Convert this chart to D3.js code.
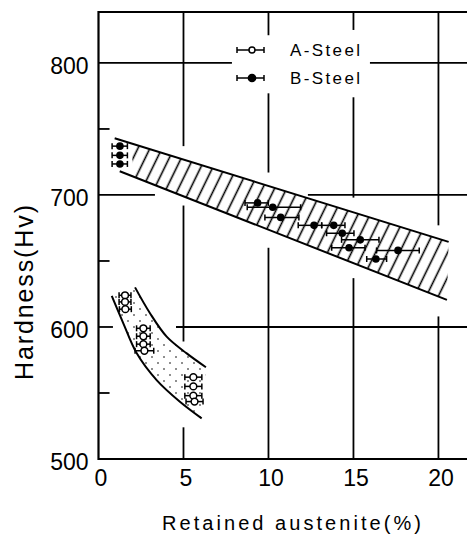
<!DOCTYPE html>
<html lang="en">
<head>
<meta charset="UTF-8">
<title>Hardness vs retained austenite</title>
<script src="https://cdn.jsdelivr.net/npm/d3@7"></script>
<style>
    body { margin: 0; background: #fff; }
    svg { display: block; }
</style>
</head>
<body>
<svg id="chart" width="467" height="536"></svg>
<script>
    const xTicks = [0, 5, 10, 15, 20];
    const yTicks = [500, 600, 700, 800];
    const yMinor = [550, 650, 750];

    // A-Steel: [retained austenite, hardness, half width of error bar]
    const aSteel = [
        [1.56, 624, 0.35], [1.56, 619, 0.35], [1.58, 613.5, 0.35],
        [2.64, 599, 0.4], [2.64, 593, 0.4], [2.64, 587, 0.4], [2.7, 582, 0.55],
        [5.58, 562, 0.5], [5.58, 555, 0.5], [5.58, 548, 0.5], [5.65, 543.5, 0.5]
    ];
    // B-Steel: [retained austenite, hardness, low, high]
    const bSteel = [
        [1.26, 737, 0.8, 1.7], [1.26, 730, 0.8, 1.7], [1.26, 723.5, 0.8, 1.7],
        [9.36, 694, 8.62, 9.99], [10.25, 690.7, 8.75, 11.89], [10.72, 683, 9.79, 11.79],
        [12.68, 677, 11.75, 13.13], [13.84, 677, 13.13, 14.5], [14.34, 671, 13.42, 15.03],
        [15.4, 666, 14.3, 16.5], [14.74, 660, 13.72, 15.68], [17.62, 658, 16.36, 18.87],
        [16.32, 651.5, 15.78, 16.95]
    ];

    // scatter bands
    const bandAUpper = [[2.15, 630], [3.03, 610.4], [4.01, 592.7], [5.19, 580], [6.32, 569.5]];
    const bandALower = [[0.78, 623.5], [1.46, 602.8], [2.25, 580.1], [3.42, 559.8], [4.79, 543.4], [6.07, 530.8]];
    const bandBUpper = [[0.95, 743], [20.6, 664.5]];
    const bandBLower = [[1.25, 718], [20.5, 620.5]];

    // grid lines are broken in the original, around the legend and the data
    const vGrid = [
        [5, 737, 839], [5, 589, 692], [5, 500, 524],
        [10, 821, 839], [10, 717, 777], [10, 500, 660],
        [15, 825, 839], [15, 698, 774], [15, 500, 637],
        [20, 677, 839], [20, 500, 608]
    ];
    const hGrid = [
        [800, 0, 7.85], [800, 15.97, 21.7],
        [700, 0, 3.32], [700, 12.32, 21.7],
        [600, 0, 0.85], [600, 4.56, 21.7]
    ];

    const W = 467, H = 536;
    const x = d3.scaleLinear().domain([0, 21.68]).range([98.5, W]);
    const y = d3.scaleLinear().domain([500, 838.6]).range([459, 12]);

    const svg = d3.select('#chart');
    const font = '"Liberation Sans", Arial, sans-serif';

    const defs = svg.append('defs');
    defs.append('pattern')
        .attr('id', 'hatch')
        .attr('patternUnits', 'userSpaceOnUse')
        .attr('width', 10.8).attr('height', 10)
        .attr('patternTransform', 'rotate(26)')
        .append('line')
        .attr('x1', 5.4).attr('y1', 0).attr('x2', 5.4).attr('y2', 10)
        .attr('stroke', '#000').attr('stroke-width', 1.6);
    const dots = defs.append('pattern')
        .attr('id', 'dots')
        .attr('patternUnits', 'userSpaceOnUse')
        .attr('width', 12).attr('height', 12);
    dots.append('circle').attr('cx', 2).attr('cy', 3).attr('r', 0.8).attr('fill', '#000');
    dots.append('circle').attr('cx', 8).attr('cy', 9).attr('r', 0.8).attr('fill', '#000');

    // grid
    svg.append('g').selectAll('line').data(vGrid).join('line')
        .attr('x1', d => x(d[0])).attr('x2', d => x(d[0]))
        .attr('y1', d => y(d[1])).attr('y2', d => y(d[2]))
        .attr('stroke', '#000').attr('stroke-width', 1.8);
    svg.append('g').selectAll('line').data(hGrid).join('line')
        .attr('x1', d => x(d[1])).attr('x2', d => x(d[2]))
        .attr('y1', d => y(d[0])).attr('y2', d => y(d[0]))
        .attr('stroke', '#000').attr('stroke-width', 1.8);
    svg.append('g').selectAll('line').data(yMinor).join('line')
        .attr('x1', x(0)).attr('x2', x(0.65))
        .attr('y1', d => y(d)).attr('y2', d => y(d))
        .attr('stroke', '#000').attr('stroke-width', 1.8);

    // frame: left, bottom, top (no right edge)
    svg.append('path')
        .attr('d', `M${W},${y(838.6)}H${x(0)}V${y(500)}H${W}`)
        .attr('fill', 'none').attr('stroke', '#000').attr('stroke-width', 2.2);

    // B band, hatched
    const along = (band, v) => {
        const [a, b] = band;
        return [v, a[1] + (b[1] - a[1]) * (v - a[0]) / (b[0] - a[0])];
    };
    const hatchPoly = [along(bandBUpper, 1.9), bandBUpper[1], bandBLower[1], along(bandBLower, 2.1)];
    svg.append('path')
        .attr('d', d3.line().x(d => x(d[0])).y(d => y(d[1]))(hatchPoly) + 'Z')
        .attr('fill', 'url(#hatch)');
    const straight = d3.line().x(d => x(d[0])).y(d => y(d[1]));
    [bandBUpper, bandBLower].forEach(b => {
        svg.append('path').attr('d', straight(b))
            .attr('fill', 'none').attr('stroke', '#000').attr('stroke-width', 2);
    });

    // A band, dotted
    const curve = d3.line().x(d => x(d[0])).y(d => y(d[1])).curve(d3.curveCatmullRom);
    const lowerRev = bandALower.slice().reverse();
    svg.append('path')
        .attr('d', curve(bandAUpper) + 'L' + curve(lowerRev).slice(1) + 'Z')
        .attr('fill', 'url(#dots)');
    [bandAUpper, bandALower].forEach(b => {
        svg.append('path').attr('d', curve(b))
            .attr('fill', 'none').attr('stroke', '#000').attr('stroke-width', 2);
    });

    // error bars
    function errBar(g, x1, x2, yy) {
        g.append('line').attr('x1', x1).attr('x2', x2).attr('y1', yy).attr('y2', yy)
            .attr('stroke', '#000').attr('stroke-width', 1.5);
        [x1, x2].forEach(xx => g.append('line')
            .attr('x1', xx).attr('x2', xx).attr('y1', yy - 3).attr('y2', yy + 3)
            .attr('stroke', '#000').attr('stroke-width', 1.5));
    }
    const gB = svg.append('g');
    bSteel.forEach(d => {
        errBar(gB, x(d[2]), x(d[3]), y(d[1]));
        gB.append('circle').attr('cx', x(d[0])).attr('cy', y(d[1])).attr('r', 3.8).attr('fill', '#000');
    });
    const gA = svg.append('g');
    aSteel.forEach(d => {
        errBar(gA, x(d[0] - d[2]), x(d[0] + d[2]), y(d[1]));
        gA.append('circle').attr('cx', x(d[0])).attr('cy', y(d[1])).attr('r', 3.4)
            .attr('fill', '#fff').attr('stroke', '#000').attr('stroke-width', 1.5);
    });

    // axes labels
    const xAxis = svg.append('g')
        .attr('transform', `translate(2,${y(500)})`)
        .call(d3.axisBottom(x).tickValues(xTicks).tickSize(0).tickPadding(11));
    const yAxis = svg.append('g')
        .attr('transform', `translate(${x(0)},0)`)
        .call(d3.axisLeft(y).tickValues(yTicks).tickSize(0).tickPadding(10));
    [xAxis, yAxis].forEach(g => {
        g.select('.domain').remove();
        g.attr('font-family', font).attr('font-size', 23);
        g.selectAll('text').attr('fill', '#000');
    });
    yAxis.selectAll('text').attr('dy', '0.47em');

    // titles
    svg.append('text')
        .attr('x', 162).attr('y', 530)
        .attr('font-family', font).attr('font-size', 20)
        .attr('textLength', 259).attr('lengthAdjust', 'spacing')
        .text('Retained  austenite(%)');
    svg.append('text')
        .attr('transform', 'translate(33,380) rotate(-90)')
        .attr('font-family', font).attr('font-size', 25)
        .attr('textLength', 175).attr('lengthAdjust', 'spacing')
        .text('Hardness(Hv)');

    // legend
    const legend = svg.append('g').attr('transform', 'translate(237,0)');
    [['A-Steel', 50, false], ['B-Steel', 78, true]].forEach(([name, ly, filled]) => {
        errBar(legend, 0, 27, ly);
        legend.append('circle').attr('cx', 15).attr('cy', ly).attr('r', filled ? 3.6 : 3)
            .attr('fill', filled ? '#000' : '#fff').attr('stroke', '#000').attr('stroke-width', 1.5);
        legend.append('text').attr('x', 53).attr('y', ly + 6)
            .attr('font-family', font).attr('font-size', 17)
            .attr('textLength', 70).attr('lengthAdjust', 'spacing')
            .text(name);
    });
</script>
</body>
</html>
